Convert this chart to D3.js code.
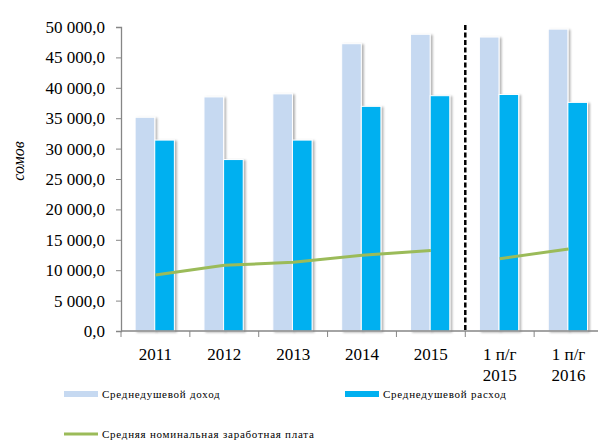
<!DOCTYPE html>
<html><head><meta charset="utf-8">
<script src="https://cdn.jsdelivr.net/npm/d3@7"></script>
<style>body{margin:0;background:#fff}svg{display:block}</style>
</head><body>
<svg id="c" width="598" height="441"></svg>
<script>
const categories = [["2011"],["2012"],["2013"],["2014"],["2015"],["1 п/г","2015"],["1 п/г","2016"]];
const income  = [35150, 38500, 39000, 47250, 48800, 48350, 49650];
const expense = [31400, 28200, 31400, 36950, 38700, 38900, 37600];
const wage    = [9200, 10800, 11300, 12450, 13250, 11900, 13500];
const wageSegments = [[0,1,2,3,4],[5,6]];
const yTicks = [0,5000,10000,15000,20000,25000,30000,35000,40000,45000,50000];
const seriesNames = ["Среднедушевой доход","Среднедушевой расход","Средняя номинальная заработная плата"];
const colors = ["#c6d9f1","#00b0f0","#9bbb59"];

const svg = d3.select("#c");
const defs = svg.append("defs");
const f = defs.append("filter").attr("id","sh").attr("x","-20%").attr("y","-5%").attr("width","150%").attr("height","110%");
f.append("feDropShadow").attr("dx",2).attr("dy",1).attr("stdDeviation",1).attr("flood-color","#000").attr("flood-opacity",0.3);

const idx = categories.map((d,i)=>i);
const x0 = d3.scaleBand().domain(idx).range([121,603]).padding(0);
const step = x0.step();
const x1 = d3.scaleBand().domain([0,1]).range([step*0.205, step*0.775]).padding(0);
const y = d3.scaleLinear().domain([0,50000]).range([331,27]);
const fmt = v => d3.format(",.1f")(v).replace(/,/g," ").replace(".",",");

// y axis
const ya = svg.append("g").attr("transform","translate(121,0)")
  .call(d3.axisLeft(y).tickValues(yTicks).tickSize(5).tickPadding(11).tickFormat(fmt));
ya.select(".domain").attr("stroke","#868686").attr("stroke-width",1.3);
ya.selectAll(".tick line").attr("stroke","#868686");
ya.selectAll("text").attr("font-family","'Liberation Serif',serif").attr("font-size",17).attr("fill","#000");

// bars
const g = svg.append("g");
[income, expense].forEach((arr,s)=>{
  g.selectAll(null).data(arr).enter().append("rect")
    .attr("x",(d,i)=>x0(i)+x1(s))
    .attr("y",d=>y(d))
    .attr("width",x1.bandwidth())
    .attr("height",d=>y(0)-y(d))
    .attr("fill",colors[s]).attr("stroke","#fff").attr("stroke-width",1)
    .attr("filter","url(#sh)");
});

// x axis
const xa = svg.append("g").attr("transform","translate(0,331)");
xa.append("line").attr("x1",121).attr("x2",603).attr("stroke","#868686").attr("stroke-width",1.3);
xa.selectAll(".tk").data(idx.concat([idx.length])).enter().append("line")
  .attr("x1",d=>121+d*step).attr("x2",d=>121+d*step).attr("y1",0).attr("y2",6).attr("stroke","#868686");
categories.forEach((lines,i)=>{
  const t = xa.append("text").attr("x",x0(i)+step/2).attr("text-anchor","middle")
    .attr("font-family","'Liberation Serif',serif").attr("font-size",17).attr("fill","#000");
  lines.forEach((l,j)=>t.append("tspan").attr("x",x0(i)+step/2).attr("y",29+j*21).text(l));
});

// wage line
const line = d3.line().x(i=>x0(i)+step/2).y(i=>y(wage[i]));
wageSegments.forEach(seg=>{
  svg.append("path").attr("d",line(seg)).attr("fill","none").attr("stroke",colors[2]).attr("stroke-width",3);
});

// dashed separator
svg.append("line").attr("x1",x0(5)).attr("x2",x0(5)).attr("y1",25).attr("y2",331)
  .attr("stroke","#000").attr("stroke-width",2.5).attr("stroke-dasharray","5,2.5");

// y label
svg.append("text").attr("transform","translate(24,161) rotate(-90)").attr("text-anchor","middle")
  .attr("font-family","'Liberation Serif',serif").attr("font-style","italic").attr("font-size",16).text("сомов");

// legend
const lg = svg.append("g").attr("font-family","'Liberation Serif',serif").attr("font-size",11).attr("letter-spacing","0.75px");
const legItems = [{x:64,y:394,t:"rect",c:colors[0],n:seriesNames[0]},{x:345,y:394,t:"rect",c:colors[1],n:seriesNames[1]},{x:64,y:434,t:"line",c:colors[2],n:seriesNames[2]}];
legItems.forEach(it=>{
  if(it.t==="rect") lg.append("rect").attr("x",it.x).attr("y",it.y-3).attr("width",34).attr("height",6).attr("fill",it.c);
  else lg.append("line").attr("x1",it.x).attr("x2",it.x+34).attr("y1",it.y).attr("y2",it.y).attr("stroke",it.c).attr("stroke-width",3);
  lg.append("text").attr("x",it.x+38).attr("y",it.y+4).text(it.n);
});
</script>
</body></html>
